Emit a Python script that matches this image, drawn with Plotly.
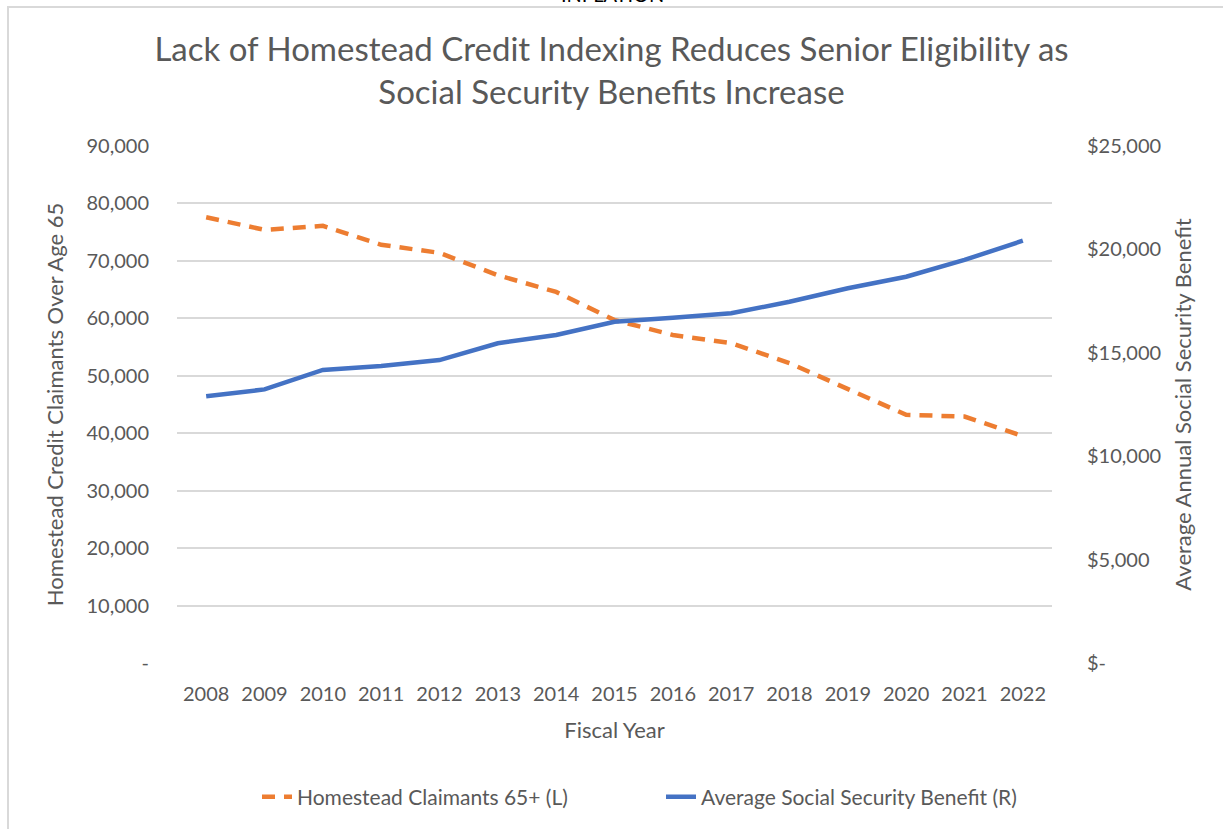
import plotly.graph_objects as go

years = [str(y) for y in range(2008, 2023)]
claimants = [77600, 75400, 76100, 72800, 71400, 67500, 64600, 59700, 57100, 55700, 52200, 47800, 43200, 42900, 39500]
benefit = [12900, 13230, 14170, 14360, 14650, 15460, 15860, 16500, 16700, 16910, 17470, 18120, 18680, 19490, 20420]

left_ticks = [0, 10000, 20000, 30000, 40000, 50000, 60000, 70000, 80000, 90000]
left_text = ["-", "10,000", "20,000", "30,000", "40,000", "50,000", "60,000", "70,000", "80,000", "90,000"]
right_ticks = [0, 5000, 10000, 15000, 20000, 25000]
right_text = ["$-", "$5,000", "$10,000", "$15,000", "$20,000", "$25,000"]

FONT = "Lato"
GREY = "#595959"

fig = go.Figure()
fig.add_trace(go.Scatter(x=years, y=claimants, name="Homestead Claimants 65+ (L)", mode="lines",
                         line=dict(color="#ED7D31", width=4.5, dash="13px,9px"), yaxis="y"))
fig.add_trace(go.Scatter(x=years, y=benefit, name="Average Social Security Benefit (R)", mode="lines",
                         line=dict(color="#4472C4", width=4.5), yaxis="y2"))

W, H = 1223, 829
L, R, T, B = 177, 1052, 146, 663
def px(x):
    return (x - L) / (R - L)
def py(y):
    return (B - y) / (B - T)

fig.update_layout(
    width=W, height=H,
    margin=dict(l=L, r=W - R, t=T, b=H - B, autoexpand=False),
    paper_bgcolor="white", plot_bgcolor="white",
    font=dict(family=FONT, color=GREY, size=20),
    title=dict(text="Lack of Homestead Credit Indexing Reduces Senior Eligibility as<br>Social Security Benefits Increase",
               x=0.5, xanchor="center", y=1 - 61 / H, yanchor="middle",
               font=dict(size=33, color=GREY, family=FONT)),
    xaxis=dict(type="category", range=[-0.5, len(years) - 0.5], showgrid=False, showline=False, ticks="",
               zeroline=False, tickfont=dict(size=20, color=GREY), ticklabelstandoff=17,
               title=dict(text="Fiscal Year", font=dict(size=22, color=GREY), standoff=18)),
    yaxis=dict(range=[0, 90000], tickvals=left_ticks, ticktext=left_text, showgrid=True,
               gridcolor="#d9d9d9", gridwidth=2, zeroline=False, showline=False, ticks="",
               tickfont=dict(size=20, color=GREY), ticklabelstandoff=27,
               title=dict(text="Homestead Credit Claimants Over Age 65", font=dict(size=22, color=GREY), standoff=16)),
    yaxis2=dict(range=[0, 25000], tickvals=right_ticks, ticktext=right_text, overlaying="y", side="right",
                showgrid=False, zeroline=False, showline=False, ticks="",
                tickfont=dict(size=20, color=GREY), ticklabelstandoff=34,
                title=dict(text="Average Annual Social Security Benefit", font=dict(size=22, color=GREY), standoff=15)),
    legend=dict(orientation="h", x=px(661), xanchor="center", y=py(797), yanchor="middle",
                entrywidth=359, entrywidthmode="pixels",
                font=dict(size=21, color=GREY), traceorder="normal"),
    showlegend=True,
)

fig.add_shape(type="rect", xref="paper", yref="paper", x0=px(8), x1=px(1300), y0=py(900), y1=py(7),
              line=dict(color="#d9d9d9", width=2), fillcolor="rgba(0,0,0,0)", layer="below")
fig.add_annotation(text="INFLATION", xref="paper", yref="paper", x=px(612), y=py(8), xanchor="center",
                   yanchor="bottom", showarrow=False, font=dict(size=20, color="black", family=FONT))

fig.write_html("out.html", config={"displayModeBar": False},
               post_script="document.body.style.margin='0';")
